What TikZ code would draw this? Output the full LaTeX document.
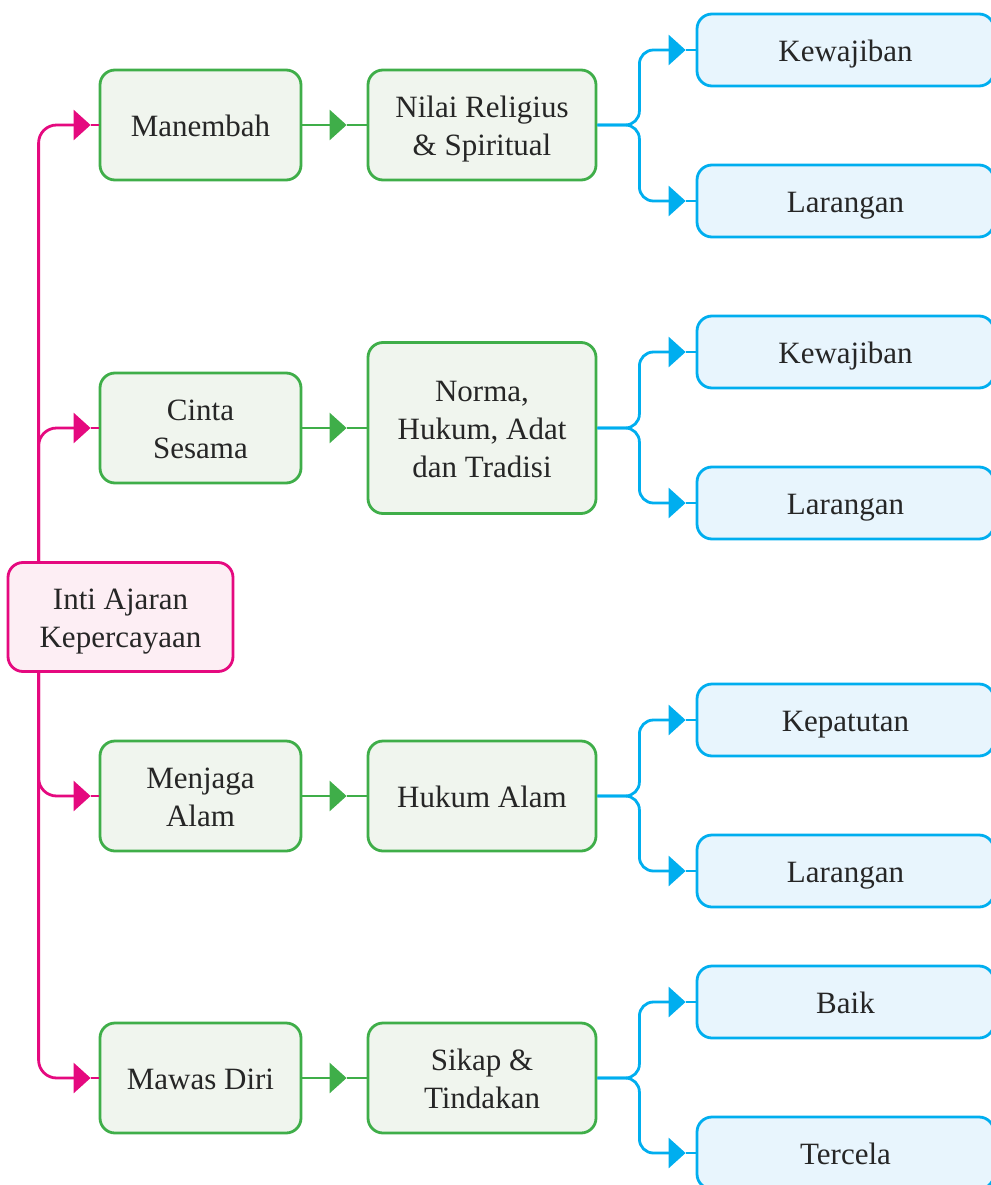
\documentclass[tikz,border=0pt]{standalone}
\usepackage{fontspec}
\setmainfont{Liberation Serif}
\usetikzlibrary{arrows.meta}
\definecolor{pk}{HTML}{E5097F}
\definecolor{pkfill}{HTML}{FDEEF4}
\definecolor{gr}{HTML}{3FAE49}
\definecolor{grfill}{HTML}{F0F5EE}
\definecolor{bl}{HTML}{00AEEF}
\definecolor{blfill}{HTML}{E8F5FD}
\newcommand\bxt[1]{\raisebox{0pt}[\dimexpr\height+8pt\relax][\depth]{\begin{tabular}{@{}c@{}}#1\end{tabular}}}
\begin{document}
\begin{tikzpicture}[x=1pt,y=-1pt,
  basebox/.style={line width=2.8pt, rounded corners=15pt, inner sep=0pt,
    font=\fontsize{31}{38}\selectfont, text=black!85},
  rootbox/.style={basebox, draw=pk, fill=pkfill, minimum width=225pt, minimum height=109pt},
  abox/.style={basebox, draw=gr, fill=grfill, minimum width=201pt, minimum height=110pt},
  bbox/.style={basebox, draw=gr, fill=grfill, minimum width=228pt, minimum height=110pt},
  cbox/.style={basebox, draw=bl, fill=blfill, minimum width=297pt, minimum height=72pt},
  pkline/.style={draw=pk, line width=2.8pt, rounded corners=18pt},
  grline/.style={draw=gr, line width=2.8pt},
  blline/.style={draw=bl, line width=2.8pt, rounded corners=14pt},
  tip/.style={-{Triangle[length=17pt,width=30pt]}}
]
\useasboundingbox (0,0) rectangle (990,1185);

% root
\node[rootbox] (root) at (120.5,617) {\bxt{Inti Ajaran\\Kepercayaan}};

% column A
\node[abox] (a1) at (200.5,125) {\bxt{Manembah}};
\node[abox] (a2) at (200.5,428) {\bxt{Cinta\\Sesama}};
\node[abox] (a3) at (200.5,796) {\bxt{Menjaga\\Alam}};
\node[abox] (a4) at (200.5,1078) {\bxt{Mawas Diri}};

% column B
\node[bbox] (b1) at (482,125) {\bxt{Nilai Religius\\\& Spiritual}};
\node[bbox, minimum height=171pt] (b2) at (482,428) {\bxt{Norma,\\Hukum, Adat\\dan Tradisi}};
\node[bbox] (b3) at (482,796) {\bxt{Hukum Alam}};
\node[bbox] (b4) at (482,1078) {\bxt{Sikap \&\\Tindakan}};

% column C
\node[cbox] (c1) at (845.5,50) {\bxt{Kewajiban}};
\node[cbox] (c2) at (845.5,201) {\bxt{Larangan}};
\node[cbox] (c3) at (845.5,352) {\bxt{Kewajiban}};
\node[cbox] (c4) at (845.5,503) {\bxt{Larangan}};
\node[cbox] (c5) at (845.5,720) {\bxt{Kepatutan}};
\node[cbox] (c6) at (845.5,871) {\bxt{Larangan}};
\node[cbox] (c7) at (845.5,1002) {\bxt{Baik}};
\node[cbox] (c8) at (845.5,1153) {\bxt{Tercela}};

% pink connectors
\coordinate (rt) at ([xshift=32pt]root.north west);
\coordinate (rb) at ([xshift=32pt]root.south west);
\foreach \n/\s in {a1/rt,a2/rt,a3/rb,a4/rb}{
  \draw[pkline,tip] (\s) |- ([xshift=-8pt]\n.west);
  \draw[pkline] ([xshift=-8pt]\n.west) -- (\n.west);
}

% green connectors
\foreach \i in {1,2,3,4}{
  \draw[grline,tip] (a\i.east) -- ([xshift=-20pt]b\i.west);
  \draw[grline] ([xshift=-20pt]b\i.west) -- (b\i.west);
}

% blue connectors
\foreach \b/\u/\d in {b1/c1/c2,b2/c3/c4,b3/c5/c6,b4/c7/c8}{
  \coordinate (j) at ([xshift=42pt]\b.east);
  \draw[blline,tip] (\b.east) -- (j) |- ([xshift=-10pt]\u.west);
  \draw[blline,tip] (\b.east) -- (j) |- ([xshift=-10pt]\d.west);
  \draw[blline] ([xshift=-10pt]\u.west) -- (\u.west);
  \draw[blline] ([xshift=-10pt]\d.west) -- (\d.west);
}
\end{tikzpicture}
\end{document}
